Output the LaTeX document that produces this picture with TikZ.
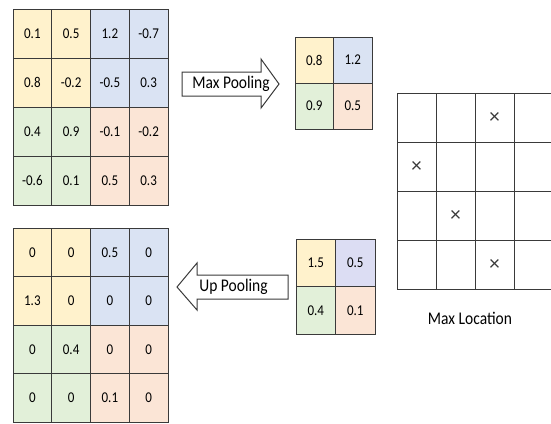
\documentclass[tikz,border=0pt]{standalone}
\usepackage{fontspec}
\setmainfont{Carlito}
\definecolor{cyel}{HTML}{FFF2CC}
\definecolor{cblu}{HTML}{DAE3F3}
\definecolor{cgrn}{HTML}{E2F0D9}
\definecolor{corg}{HTML}{FBE5D6}
\definecolor{clav}{HTML}{DCDDF3}
\definecolor{gridline}{HTML}{3A3A3A}
\newcommand{\vtxt}[1]{\scalebox{1}[1.15]{#1}}
\begin{document}
\begin{tikzpicture}[x=1pt,y=-1pt,
  cell/.style={draw=gridline, line width=0.9pt, inner sep=0pt,
    font=\fontsize{13}{15}\selectfont},
  label/.style={inner sep=0pt, font=\fontsize{15.5}{18}\selectfont},
  banner/.style={draw=gridline, line width=1pt, fill=white, line join=miter}]
\useasboundingbox (0,0) rectangle (551,423);

% input feature map
\foreach \r/\c/\v/\f in {
  1/1/0.1/cyel, 1/2/0.5/cyel, 1/3/1.2/cblu, 1/4/-0.7/cblu,
  2/1/0.8/cyel, 2/2/-0.2/cyel, 2/3/-0.5/cblu, 2/4/0.3/cblu,
  3/1/0.4/cgrn, 3/2/0.9/cgrn, 3/3/-0.1/corg, 3/4/-0.2/corg,
  4/1/-0.6/cgrn, 4/2/0.1/cgrn, 4/3/0.5/corg, 4/4/0.3/corg}
  \node[cell, fill=\f, minimum width=38.75pt, minimum height=49pt]
    (in-\r-\c) at ({13+38.75*(\c-0.5)}, {9+49*(\r-0.5)}) {\vtxt{\v}};

% pooled map
\foreach \r/\c/\v/\f in {1/1/0.8/cyel, 1/2/1.2/cblu, 2/1/0.9/cgrn, 2/2/0.5/corg}
  \node[cell, fill=\f, minimum width=38.5pt, minimum height=46pt]
    (mp-\r-\c) at ({295+38.5*(\c-0.5)}, {37+46*(\r-0.5)}) {\vtxt{\v}};

% map to be unpooled
\foreach \r/\c/\v/\f in {1/1/1.5/cyel, 1/2/0.5/clav, 2/1/0.4/cgrn, 2/2/0.1/corg}
  \node[cell, fill=\f, minimum width=39.5pt, minimum height=47.5pt]
    (pp-\r-\c) at ({296+39.5*(\c-0.5)}, {239+47.5*(\r-0.5)}) {\vtxt{\v}};

% unpooled output
\foreach \r/\c/\v/\f in {
  1/1/0/cyel, 1/2/0/cyel, 1/3/0.5/cblu, 1/4/0/cblu,
  2/1/1.3/cyel, 2/2/0/cyel, 2/3/0/cblu, 2/4/0/cblu,
  3/1/0/cgrn, 3/2/0.4/cgrn, 3/3/0/corg, 3/4/0/corg,
  4/1/0/cgrn, 4/2/0/cgrn, 4/3/0.1/corg, 4/4/0/corg}
  \node[cell, fill=\f, minimum width=38.75pt, minimum height=48.6pt]
    (up-\r-\c) at ({13+38.75*(\c-0.5)}, {228+48.6*(\r-0.5)}) {\vtxt{\v}};

% switch locations
\foreach \r in {1,...,4}
  \foreach \c in {1,...,4}
    \node[cell, fill=white, minimum width=39pt, minimum height=49pt]
      (ml-\r-\c) at ({397+39*(\c-0.5)}, {93+49*(\r-0.5)}) {};
\foreach \r/\c in {1/3, 2/1, 3/2, 4/3}
  \node[inner sep=0pt, font=\fontsize{21}{22}\selectfont, text=gridline]
    at (ml-\r-\c) {×};
\node[label] (mlcap) at (470,318) {\vtxt{Max Location}};

% block arrows
\draw[banner] (182,72) -- (261,72) -- (261,59) -- (279,84) -- (261,108)
  -- (261,96) -- (182,96) -- cycle;
\node[label] (mpl) at (231,84) {\vtxt{Max Pooling}};
\draw[banner] (288,275) -- (197,275) -- (197,263) -- (177,287) -- (197,310)
  -- (197,299) -- (288,299) -- cycle;
\node[label] (upl) at (233.5,287) {\vtxt{Up Pooling}};
\end{tikzpicture}
\end{document}
